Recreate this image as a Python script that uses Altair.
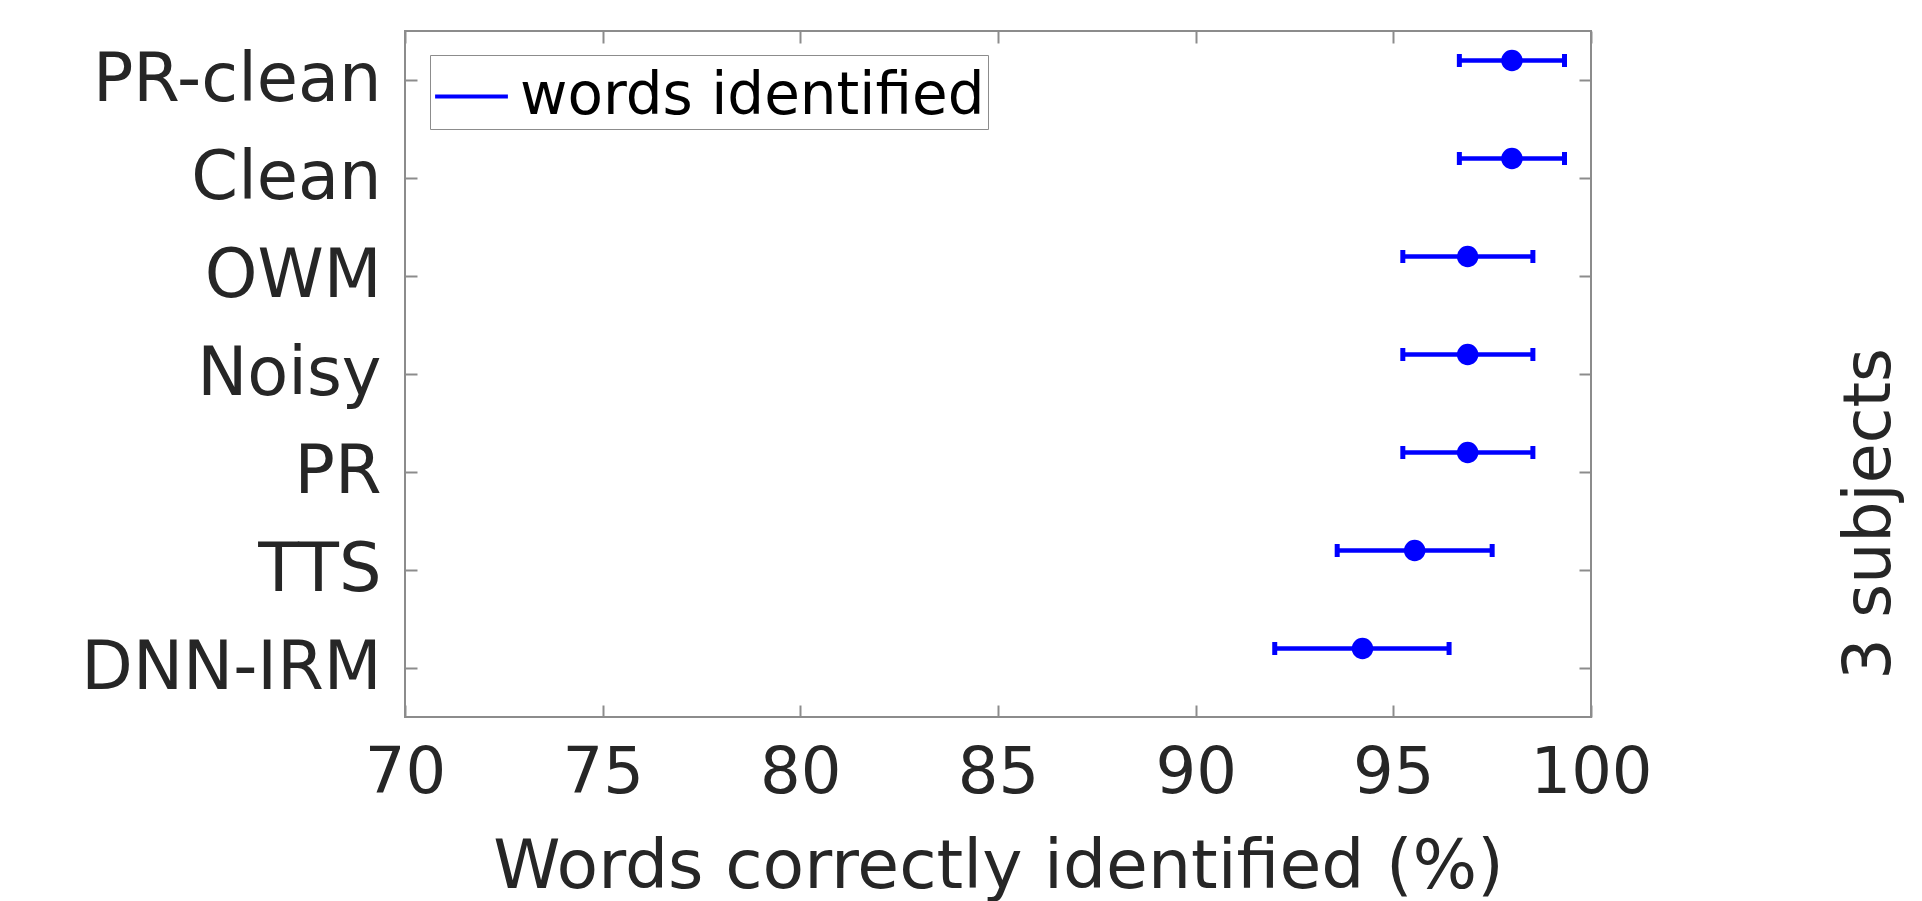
import altair as alt
import pandas as pd

# ---- data ----
categories = ["PR-clean", "Clean", "OWM", "Noisy", "PR", "TTS", "DNN-IRM"]
means = [98.0, 98.0, 96.88, 96.88, 96.88, 95.54, 94.22]
lows = [96.67, 96.67, 95.24, 95.24, 95.24, 93.58, 92.0]
highs = [99.33, 99.33, 98.53, 98.53, 98.53, 97.5, 96.41]
x_ticks = [70, 75, 80, 85, 90, 95, 100]
series_name = "words identified"
x_title = "Words correctly identified (%)"
side_note = "3 subjects"

W, H = 1186, 686
BLUE = "#0000ff"
FRAME = "#8c8c8c"
TXT = "#262626"
OFF = -19.5

df = pd.DataFrame({
    "condition": categories,
    "mean": means,
    "lo": lows,
    "hi": highs,
    "series": [series_name] * len(categories),
})

xscale = alt.Scale(domain=[70, 100], nice=False, zero=False)
yscale = alt.Scale(type="point", domain=categories, padding=0.5)

base = alt.Chart(df)

ax_x_main = alt.Axis(values=x_ticks, orient="bottom", tickSize=0, domain=False, grid=False,
                     labelFontSize=64, labelColor=TXT, labelPadding=24, labelFlush=False,
                     titleFontSize=68, titleFontWeight="normal", titleColor=TXT, titlePadding=28)
ax_y_main = alt.Axis(orient="left", tickSize=0, domain=False, grid=False,
                     labelFontSize=67, labelColor=TXT, labelPadding=24, labelLimit=1000)

tick_style = dict(tickSize=12, tickWidth=2, tickColor=FRAME, labels=False, domain=False, grid=False)
ax_x_in_bottom = alt.Axis(values=x_ticks, orient="top", offset=-H, **tick_style)
ax_x_in_top = alt.Axis(values=x_ticks, orient="bottom", offset=-H, **tick_style)
ax_y_in_left = alt.Axis(orient="right", offset=-W, **tick_style)
ax_y_in_right = alt.Axis(orient="left", offset=-W, **tick_style)

legend = alt.Legend(title=None, orient="none", legendX=25, legendY=24, symbolType="stroke",
                    symbolSize=5300, symbolStrokeWidth=4, labelFontSize=58, labelColor="#000000",
                    labelLimit=1000, labelOffset=10, padding=3, strokeColor=FRAME,
                    fillColor="white", cornerRadius=0)

rules = base.mark_rule(strokeWidth=4.5, yOffset=OFF).encode(
    x=alt.X("lo:Q", scale=xscale, axis=ax_x_main, title=x_title),
    x2="hi:Q",
    y=alt.Y("condition:N", scale=yscale, axis=ax_y_main, title=None),
    color=alt.Color("series:N", scale=alt.Scale(domain=[series_name], range=[BLUE]), legend=legend),
)

caps = base.transform_fold(["lo", "hi"], as_=["end", "value"]).mark_tick(
    size=13, thickness=5, yOffset=OFF, color=BLUE, opacity=1
).encode(
    x=alt.X("value:Q", scale=xscale, axis=ax_x_in_top, title=None),
    y=alt.Y("condition:N", scale=yscale, axis=ax_y_in_right, title=None),
)

dots = base.mark_circle(size=460, opacity=1, yOffset=OFF, color=BLUE).encode(
    x=alt.X("mean:Q", scale=xscale, axis=ax_x_in_bottom, title=None),
    y=alt.Y("condition:N", scale=yscale, axis=ax_y_in_left, title=None),
)

note = alt.Chart(pd.DataFrame({"note": [side_note]})).mark_text(
    angle=270, fontSize=65, color=TXT, align="center", baseline="middle"
).encode(x=alt.value(1465), y=alt.value(483), text="note:N")

chart = alt.layer(rules, caps, dots, note).resolve_axis(
    x="independent", y="independent"
).properties(
    width=W, height=H,
    autosize=alt.AutoSizeParams(type="none"),
    padding={"left": 397, "top": 23, "right": 316, "bottom": 192},
).configure(font="DejaVu Sans").configure_view(stroke=FRAME, strokeWidth=2)

chart.save("out.html", embed_options={"renderer": "svg", "actions": False})
